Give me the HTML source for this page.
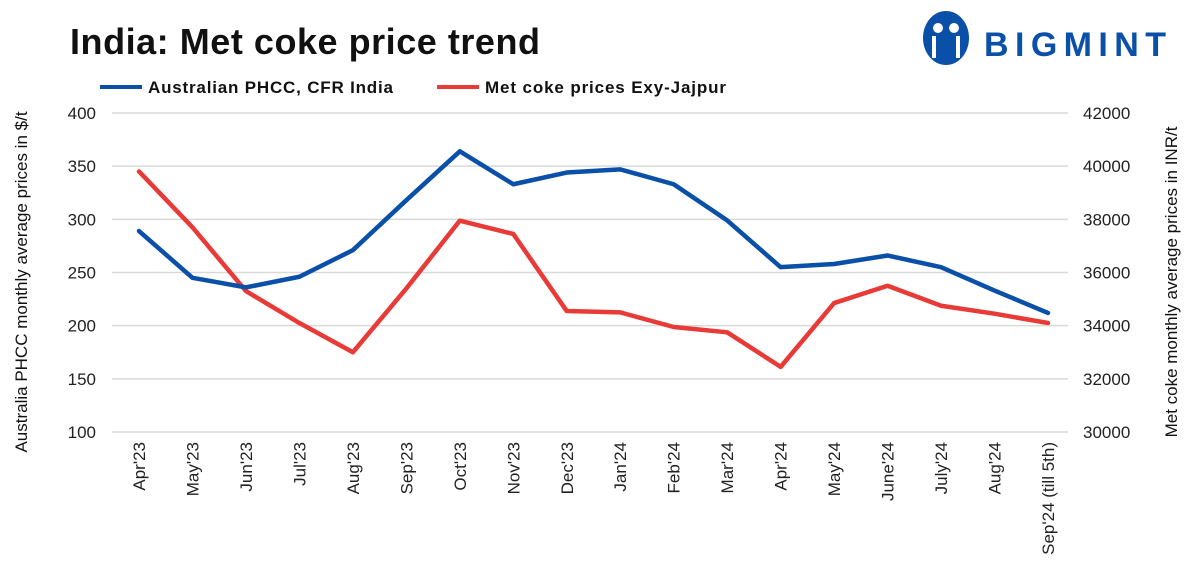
<!DOCTYPE html>
<html><head><meta charset="utf-8"><style>
body{margin:0;background:#fff;font-family:"Liberation Sans",sans-serif;}
svg text{font-family:"Liberation Sans",sans-serif;}
</style></head><body>
<svg id="c" width="1203" height="570">
<text x="70" y="54" font-size="36" font-weight="bold" fill="#111" textLength="470">India: Met coke price trend</text>
<g>
<ellipse cx="946" cy="38" rx="23" ry="27" fill="#0a4fa8"/>
<circle cx="938" cy="28" r="5" fill="#fff"/><circle cx="954" cy="28" r="5" fill="#fff"/>
<rect x="932" y="36" width="4" height="22" fill="#fff"/><rect x="956" y="36" width="4" height="22" fill="#fff"/>
<text x="984" y="56" font-size="34" font-weight="bold" fill="#0a4fa8" textLength="182">BIGMINT</text>
</g>
<g>
<line x1="100" y1="87" x2="142" y2="87" stroke="#0a4fa8" stroke-width="4"/>
<text x="148" y="93" font-size="17" font-weight="bold" fill="#111" textLength="245">Australian PHCC, CFR India</text>
<line x1="437" y1="87" x2="479" y2="87" stroke="#e83a36" stroke-width="4"/>
<text x="485" y="93" font-size="17" font-weight="bold" fill="#111" textLength="241">Met coke prices Exy-Jajpur</text>
</g>
<text transform="translate(27,282) rotate(-90)" text-anchor="middle" font-size="17" fill="#111">Australia PHCC monthly average prices in $/t</text>
<text transform="translate(1177,282) rotate(-90)" text-anchor="middle" font-size="17" fill="#111">Met coke monthly average prices in INR/t</text>
<g id="grid"></g><g id="lines"></g><g id="labels"></g>
</svg>
<script>
const categories=["Apr'23","May'23","Jun'23","Jul'23","Aug'23","Sep'23","Oct'23","Nov'23","Dec'23","Jan'24","Feb'24","Mar'24","Apr'24","May'24","June'24","July'24","Aug'24","Sep'24 (till 5th)"];
const phcc=[289,245,236,246,271,318,364,333,344,347,333,299,255,258,266,255,233,212];
const metcoke=[39800,37700,35300,34100,33000,35400,37950,37450,34550,34500,33950,33750,32450,34850,35500,34750,34450,34100];
const leftTicks=[100,150,200,250,300,350,400];
const rightTicks=[30000,32000,34000,36000,38000,40000,42000];
const NS="http://www.w3.org/2000/svg";
const plotTop=113,plotBot=432,plotLeft=112,plotRight=1068;
const yL=v=>plotBot-(v-100)/300*(plotBot-plotTop);
const yR=v=>plotBot-(v-30000)/12000*(plotBot-plotTop);
const xPos=i=>139+i*(1048-139)/(categories.length-1);
function mk(t,a,p){const e=document.createElementNS(NS,t);for(const k in a)e.setAttribute(k,a[k]);p.appendChild(e);return e;}
const g=document.getElementById('grid'),lg=document.getElementById('lines'),lb=document.getElementById('labels');
leftTicks.forEach(v=>{
 const l=mk('line',{x1:plotLeft,x2:plotRight,y1:yL(v),y2:yL(v),stroke:'#d9d9d9','stroke-width':1.5},g);
 
 
 const t=mk('text',{x:96,y:yL(v)+6,'text-anchor':'end','font-size':17,fill:'#222'},lb);t.textContent=v;
 
 
});
rightTicks.forEach(v=>{
 const t=mk('text',{x:1083,y:yR(v)+6,'font-size':17,fill:'#222'},lb);t.textContent=v;
 
 
});
categories.forEach((c,i)=>{
 const t=mk('text',{transform:`translate(${xPos(i)+6},442) rotate(-90)`,'text-anchor':'end','font-size':17,fill:'#222'},lb);t.textContent=c;
 
 
});
const p1=mk('polyline',{points:metcoke.map((v,i)=>xPos(i)+','+yR(v)).join(' '),fill:'none',stroke:'#e83a36','stroke-width':4.5,'stroke-linejoin':'round','stroke-linecap':'round'},lg);


const p2=mk('polyline',{points:phcc.map((v,i)=>xPos(i)+','+yL(v)).join(' '),fill:'none',stroke:'#0a4fa8','stroke-width':4.5,'stroke-linejoin':'round','stroke-linecap':'round'},lg);


</script>
</body></html>
